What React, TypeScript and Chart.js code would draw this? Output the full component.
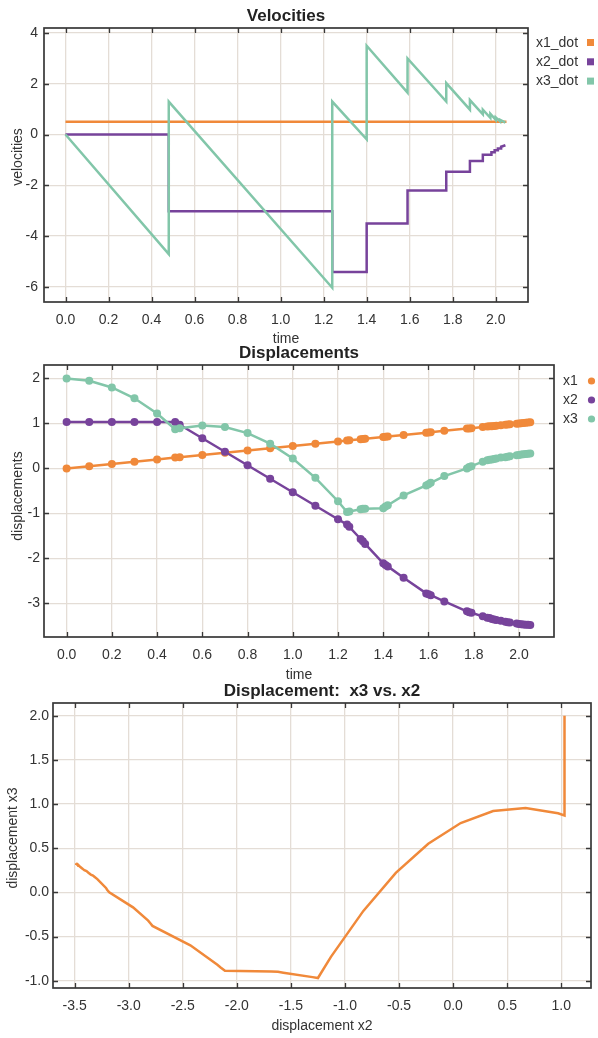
import React, { useEffect, useRef } from "react";
import { Chart, registerables } from "chart.js";

Chart.register(...registerables);

// ---------- colours & fonts ----------
const ORANGE = "#f0893a";
const PURPLE = "#77439b";
const GREEN = "#82c6a9";
const GRID = "#e4ddd6";
const FRAME = "#383838";
const TEXT = "#333333";
const FONT = "'Liberation Sans', Arial, Helvetica, sans-serif";

// ---------- Velocities data ----------
const x1DotTime = [0, 2.05];
const x1DotVals = [0.5, 0.5];

const x2DotTime = [0, 0.48, 0.48, 1.24, 1.24, 1.4, 1.4, 1.59, 1.59, 1.77, 1.77, 1.88, 1.88, 1.94, 1.94, 1.98, 1.98, 1.995, 1.995, 2.01, 2.01, 2.025, 2.025, 2.045];
const x2DotVals = [0, 0, -3.02, -3.02, -5.42, -5.42, -3.51, -3.51, -2.21, -2.21, -1.47, -1.47, -1.04, -1.04, -0.8, -0.8, -0.7, -0.7, -0.62, -0.62, -0.55, -0.55, -0.48, -0.42];

const x3DotTime = [0, 0.48, 0.48, 1.24, 1.24, 1.4, 1.4, 1.59, 1.59, 1.77, 1.77, 1.88, 1.88, 1.94, 1.94, 1.975, 1.975, 2.0, 2.0, 2.02, 2.02, 2.045];
const x3DotVals = [0, -4.71, 1.3, -6.04, 1.3, -0.19, 3.5, 1.65, 3.0, 1.3, 2.03, 0.98, 1.36, 0.8, 0.98, 0.66, 0.82, 0.58, 0.68, 0.52, 0.58, 0.47];

const velXTicks = [0, 0.2, 0.4, 0.6, 0.8, 1.0, 1.2, 1.4, 1.6, 1.8, 2.0];
const velYTicks = [-6, -4, -2, 0, 2, 4];
const velLabels = ["x1_dot", "x2_dot", "x3_dot"];

// ---------- Displacements data ----------
const dispTime = [0, 0.1, 0.2, 0.3, 0.4, 0.48, 0.5, 0.6, 0.7, 0.8, 0.9, 1.0, 1.1, 1.2, 1.24, 1.25, 1.3, 1.31, 1.32, 1.4, 1.41, 1.42, 1.49, 1.59, 1.6, 1.61, 1.67, 1.77, 1.78, 1.79, 1.84, 1.86, 1.87, 1.88, 1.89, 1.9, 1.92, 1.94, 1.95, 1.96, 1.99, 2.0, 2.01, 2.02, 2.03, 2.04, 2.05];
const x1Vals = [0, 0.05, 0.1, 0.15, 0.2, 0.24, 0.25, 0.3, 0.35, 0.4, 0.45, 0.5, 0.55, 0.6, 0.62, 0.625, 0.65, 0.655, 0.66, 0.7, 0.705, 0.71, 0.745, 0.795, 0.8, 0.805, 0.835, 0.885, 0.89, 0.895, 0.92, 0.93, 0.935, 0.94, 0.945, 0.95, 0.96, 0.97, 0.975, 0.98, 0.995, 1.0, 1.005, 1.01, 1.015, 1.02, 1.025];
const x2Vals = [1.03, 1.03, 1.03, 1.03, 1.03, 1.03, 0.97, 0.67, 0.37, 0.07, -0.23, -0.53, -0.83, -1.13, -1.25, -1.3, -1.57, -1.62, -1.68, -2.11, -2.15, -2.18, -2.43, -2.78, -2.8, -2.82, -2.96, -3.18, -3.2, -3.21, -3.29, -3.32, -3.33, -3.35, -3.36, -3.37, -3.39, -3.41, -3.42, -3.43, -3.45, -3.46, -3.465, -3.47, -3.475, -3.48, -3.485];
const x3Vals = [2.0, 1.95, 1.8, 1.56, 1.22, 0.87, 0.895, 0.955, 0.92, 0.785, 0.55, 0.22, -0.21, -0.73, -0.97, -0.96, -0.91, -0.9, -0.895, -0.887, -0.85, -0.82, -0.6, -0.38, -0.35, -0.32, -0.17, 0.0, 0.03, 0.05, 0.15, 0.18, 0.19, 0.2, 0.21, 0.22, 0.24, 0.25, 0.26, 0.27, 0.29, 0.3, 0.31, 0.315, 0.32, 0.325, 0.33];

const dispXTicks = [0, 0.2, 0.4, 0.6, 0.8, 1.0, 1.2, 1.4, 1.6, 1.8, 2.0];
const dispYTicks = [-3, -2, -1, 0, 1, 2];
const dispLabels = ["x1", "x2", "x3"];

// ---------- Phase plot ticks ----------
const phaseXTicks = [-3.5, -3.0, -2.5, -2.0, -1.5, -1.0, -0.5, 0.0, 0.5, 1.0];
const phaseYTicks = [-1.0, -0.5, 0.0, 0.5, 1.0, 1.5, 2.0];

const zip = (xs: number[], ys: number[]) => xs.map((x, i) => ({ x, y: ys[i] }));

// ---------- decoration plugin (frame, inward ticks, titles, legend) ----------
const decorPlugin = {
  id: "decor",
  afterDraw(chart: any, _args: any, o: any) {
    const { ctx, chartArea: a } = chart;
    const xs = chart.scales.x;
    const ys = chart.scales.y;
    ctx.save();
    ctx.strokeStyle = FRAME;
    ctx.lineWidth = 1.3;
    ctx.beginPath();
    xs.ticks.forEach((t: any) => {
      const p = Math.round(xs.getPixelForValue(t.value)) + 0.5;
      ctx.moveTo(p, a.bottom);
      ctx.lineTo(p, a.bottom - 5);
      ctx.moveTo(p, a.top);
      ctx.lineTo(p, a.top + 5);
    });
    ys.ticks.forEach((t: any) => {
      const p = Math.round(ys.getPixelForValue(t.value)) + 0.5;
      ctx.moveTo(a.left, p);
      ctx.lineTo(a.left + 5, p);
      ctx.moveTo(a.right, p);
      ctx.lineTo(a.right - 5, p);
    });
    ctx.stroke();
    ctx.lineWidth = 1.7;
    ctx.strokeRect(a.left, a.top, a.right - a.left, a.bottom - a.top);

    const cx = (a.left + a.right) / 2;
    ctx.fillStyle = "#222";
    ctx.textAlign = "center";
    ctx.textBaseline = "middle";
    ctx.font = `bold 17px ${FONT}`;
    ctx.fillText(o.title, cx, o.titleY);

    ctx.fillStyle = TEXT;
    ctx.font = `14px ${FONT}`;
    ctx.fillText(o.xTitle, cx, o.xTitleY);

    ctx.save();
    ctx.translate(o.yTitleX, o.yTitleY);
    ctx.rotate(-Math.PI / 2);
    ctx.fillText(o.yTitle, 0, 0);
    ctx.restore();

    if (o.legend) {
      const L = o.legend;
      ctx.textAlign = "left";
      L.labels.forEach((lab: string, i: number) => {
        const y = L.y0 + i * L.dy;
        ctx.fillStyle = TEXT;
        ctx.fillText(lab, L.textX, y);
        ctx.fillStyle = L.colors[i];
        if (L.marker === "square") {
          ctx.fillRect(L.markerX - 3.5, y - 4, 7, 7);
        } else {
          ctx.beginPath();
          ctx.arc(L.markerX, y, 3.6, 0, Math.PI * 2);
          ctx.fill();
        }
      });
    }
    ctx.restore();
  },
};

function linScale(
  axis: "x" | "y",
  min: number,
  max: number,
  tickVals: number[],
  fmt: (v: number) => string,
  pad: number,
  size: number
) {
  return {
    type: "linear",
    min,
    max,
    afterBuildTicks: (s: any) => {
      s.ticks = tickVals.map((v) => ({ value: v }));
    },
    afterFit: (s: any) => {
      if (axis === "x") s.height = size;
      else s.width = size;
    },
    grid: { color: GRID, lineWidth: 1.3, drawTicks: false },
    border: { display: false },
    ticks: {
      color: TEXT,
      font: { family: FONT, size: 14 },
      padding: pad,
      callback: (v: any) => fmt(Number(v)),
    },
  };
}

const f1 = (v: number) => v.toFixed(1);
const f0 = (v: number) => String(Math.round(v));

function lineDs(label: string, data: any[], color: string, order: number, pointRadius = 0) {
  return {
    label,
    data,
    borderColor: color,
    backgroundColor: color,
    borderWidth: 2.5,
    pointRadius,
    pointHoverRadius: pointRadius,
    pointBorderWidth: 0,
    pointBackgroundColor: color,
    tension: 0,
    fill: false,
    order,
  };
}

function buildVelocity() {
  return {
    type: "line",
    data: {
      datasets: [
        lineDs(velLabels[0], zip(x1DotTime, x1DotVals), ORANGE, 3),
        lineDs(velLabels[1], zip(x2DotTime, x2DotVals), PURPLE, 2),
        lineDs(velLabels[2], zip(x3DotTime, x3DotVals), GREEN, 1),
      ],
    },
    options: {
      responsive: false,
      animation: false,
      layout: { padding: { left: 0, right: 70, top: 28, bottom: 0 } },
      scales: {
        x: linScale("x", -0.1, 2.15, velXTicks, f1, 10, 43),
        y: linScale("y", -6.6, 4.2, velYTicks, f0, 6, 44),
      },
      plugins: {
        legend: { display: false },
        tooltip: { enabled: false },
        decor: {
          title: "Velocities",
          titleY: 16,
          xTitle: "time",
          xTitleY: 339,
          yTitle: "velocities",
          yTitleX: 18,
          yTitleY: 157,
          legend: {
            labels: velLabels,
            colors: [ORANGE, PURPLE, GREEN],
            textX: 536,
            markerX: 590.5,
            y0: 43,
            dy: 19.3,
            marker: "square",
          },
        },
      },
    },
    plugins: [decorPlugin],
  };
}

function buildDisplacement() {
  return {
    type: "line",
    data: {
      datasets: [
        lineDs(dispLabels[0], zip(dispTime, x1Vals), ORANGE, 3, 4),
        lineDs(dispLabels[1], zip(dispTime, x2Vals), PURPLE, 2, 4),
        lineDs(dispLabels[2], zip(dispTime, x3Vals), GREEN, 1, 4),
      ],
    },
    options: {
      responsive: false,
      animation: false,
      layout: { padding: { left: 0, right: 44, top: 20, bottom: 0 } },
      scales: {
        x: linScale("x", -0.1, 2.155, dispXTicks, f1, 10, 43),
        y: linScale("y", -3.75, 2.3, dispYTicks, f0, 4, 44),
      },
      plugins: {
        legend: { display: false },
        tooltip: { enabled: false },
        decor: {
          title: "Displacements",
          titleY: 8,
          xTitle: "time",
          xTitleY: 330,
          yTitle: "displacements",
          yTitleX: 18,
          yTitleY: 151,
          legend: {
            labels: dispLabels,
            colors: [ORANGE, PURPLE, GREEN],
            textX: 563,
            markerX: 591.5,
            y0: 36,
            dy: 19,
            marker: "circle",
          },
        },
      },
    },
    plugins: [decorPlugin],
  };
}

function buildPhase() {
  return {
    type: "line",
    data: {
      datasets: [lineDs("x3 vs. x2", zip(x2Vals, x3Vals), ORANGE, 1)],
    },
    options: {
      responsive: false,
      animation: false,
      layout: { padding: { left: 0, right: 7, top: 23, bottom: 0 } },
      scales: {
        x: linScale("x", -3.7, 1.275, phaseXTicks, f1, 10, 50),
        y: linScale("y", -1.083, 2.144, phaseYTicks, f1, 4, 53),
      },
      plugins: {
        legend: { display: false },
        tooltip: { enabled: false },
        decor: {
          title: "Displacement:  x3 vs. x2",
          titleY: 11,
          xTitle: "displacement x2",
          xTitleY: 346,
          yTitle: "displacement x3",
          yTitleX: 13,
          yTitleY: 158,
        },
      },
    },
    plugins: [decorPlugin],
  };
}

function ChartCanvas({ top, height, build }: { top: number; height: number; build: () => any }) {
  const ref = useRef<HTMLCanvasElement | null>(null);
  useEffect(() => {
    if (!ref.current) return;
    const chart = new Chart(ref.current, build());
    return () => chart.destroy();
  }, [build]);
  return (
    <canvas
      ref={ref}
      width={598}
      height={height}
      style={{ position: "absolute", left: 0, top, width: 598, height }}
    />
  );
}

export default function App() {
  return (
    <div style={{ position: "absolute", left: 0, top: 0, width: 598, height: 1038, background: "#fff" }}>
      <ChartCanvas top={0} height={345} build={buildVelocity} />
      <ChartCanvas top={345} height={335} build={buildDisplacement} />
      <ChartCanvas top={680} height={358} build={buildPhase} />
    </div>
  );
}
